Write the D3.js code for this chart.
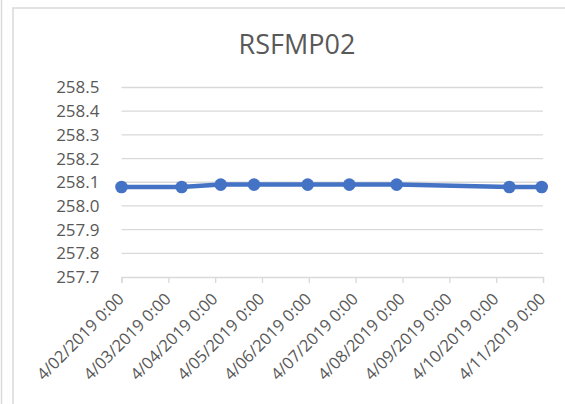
<!DOCTYPE html>
<html lang="en">
<head>
  <meta charset="UTF-8">
  <title>RSFMP02</title>
  <script src="https://d3js.org/d3.v7.min.js"></script>
  <style>
    body { margin: 0; background: #fff; }
    text { font-family: "Open Sans", sans-serif; fill: #595959; }
  </style>
</head>
<body>
  <div id="chart"></div>
  <script>
    const width = 565;
    const height = 404;

    // readings (timestamp, level)
    const times = [
      "2019-04-02T00:00", "2019-04-03T06:50", "2019-04-04T02:50",
      "2019-04-04T19:55", "2019-04-05T23:25", "2019-04-06T20:45",
      "2019-04-07T21:00", "2019-04-10T06:45", "2019-04-10T23:20"
    ];
    const values = [258.08, 258.08, 258.09, 258.09, 258.09, 258.09, 258.09, 258.08, 258.08];
    const yTicks = [257.7, 257.8, 257.9, 258.0, 258.1, 258.2, 258.3, 258.4, 258.5];
    const xStart = "2019-04-02T00:00";
    const xEnd = "2019-04-11T00:00";

    const parse = d3.timeParse("%Y-%m-%dT%H:%M");
    const data = times.map((t, i) => ({ t: parse(t), v: values[i] }));

    const margin = { top: 87.5, right: 22, bottom: 127, left: 121.5 };

    const svg = d3.select("#chart")
      .append("svg")
      .attr("width", width)
      .attr("height", height);

    // outer frames
    svg.append("line")
      .attr("x1", 1.5).attr("y1", 0).attr("x2", 1.5).attr("y2", height)
      .attr("stroke", "#d9d9d9").attr("stroke-width", 1.5);
    svg.append("rect")
      .attr("x", 13).attr("y", 8)
      .attr("width", width).attr("height", height)
      .attr("fill", "none")
      .attr("stroke", "#d9d9d9").attr("stroke-width", 1.5);

    const x = d3.scaleTime()
      .domain([parse(xStart), parse(xEnd)])
      .range([margin.left, width - margin.right]);

    const y = d3.scaleLinear()
      .domain([257.7, 258.5])
      .range([height - margin.bottom, margin.top]);

    // title
    svg.append("text")
      .attr("x", 297)
      .attr("y", 53.5)
      .attr("text-anchor", "middle")
      .style("font-size", "27px")
      .text("RSFMP02");

    // gridlines
    svg.append("g")
      .selectAll("line")
      .data(yTicks.slice(1))
      .enter()
      .append("line")
      .attr("x1", margin.left)
      .attr("x2", width - margin.right)
      .attr("y1", d => y(d))
      .attr("y2", d => y(d))
      .attr("stroke", "#d9d9d9")
      .attr("stroke-width", 1.3);

    // y axis labels
    const yAxis = d3.axisLeft(y)
      .tickValues(yTicks)
      .tickFormat(d3.format(".1f"))
      .tickSize(0)
      .tickPadding(22);

    svg.append("g")
      .attr("transform", `translate(${margin.left}, 0)`)
      .call(yAxis)
      .call(g => g.select(".domain").remove())
      .selectAll("text")
      .style("font-size", "17px")
      .attr("fill", "#595959");

    // x axis
    const xAxis = d3.axisBottom(x)
      .ticks(d3.timeDay.every(1))
      .tickFormat(d3.timeFormat("%-m/%d/%Y 0:00"))
      .tickSize(6);

    const gx = svg.append("g")
      .attr("transform", `translate(0, ${y(257.7)})`)
      .call(xAxis);

    gx.select(".domain").attr("stroke", "#d9d9d9").attr("stroke-width", 1.3);
    gx.selectAll(".tick line").attr("stroke", "#d9d9d9").attr("stroke-width", 1.3);
    gx.selectAll("text")
      .style("font-size", "16.5px")
      .attr("fill", "#595959")
      .attr("text-anchor", "end")
      .attr("x", 0)
      .attr("y", 0)
      .attr("dx", 0)
      .attr("dy", 0)
      .attr("transform", "translate(3,23) rotate(-45)");

    // series
    const line = d3.line()
      .x(d => x(d.t))
      .y(d => y(d.v));

    svg.append("path")
      .datum(data)
      .attr("fill", "none")
      .attr("stroke", "#4472c4")
      .attr("stroke-width", 4.5)
      .attr("stroke-linejoin", "round")
      .attr("d", line);

    svg.append("g")
      .selectAll("circle")
      .data(data)
      .enter()
      .append("circle")
      .attr("cx", d => x(d.t))
      .attr("cy", d => y(d.v))
      .attr("r", 6.3)
      .attr("fill", "#4472c4");
  </script>
</body>
</html>
